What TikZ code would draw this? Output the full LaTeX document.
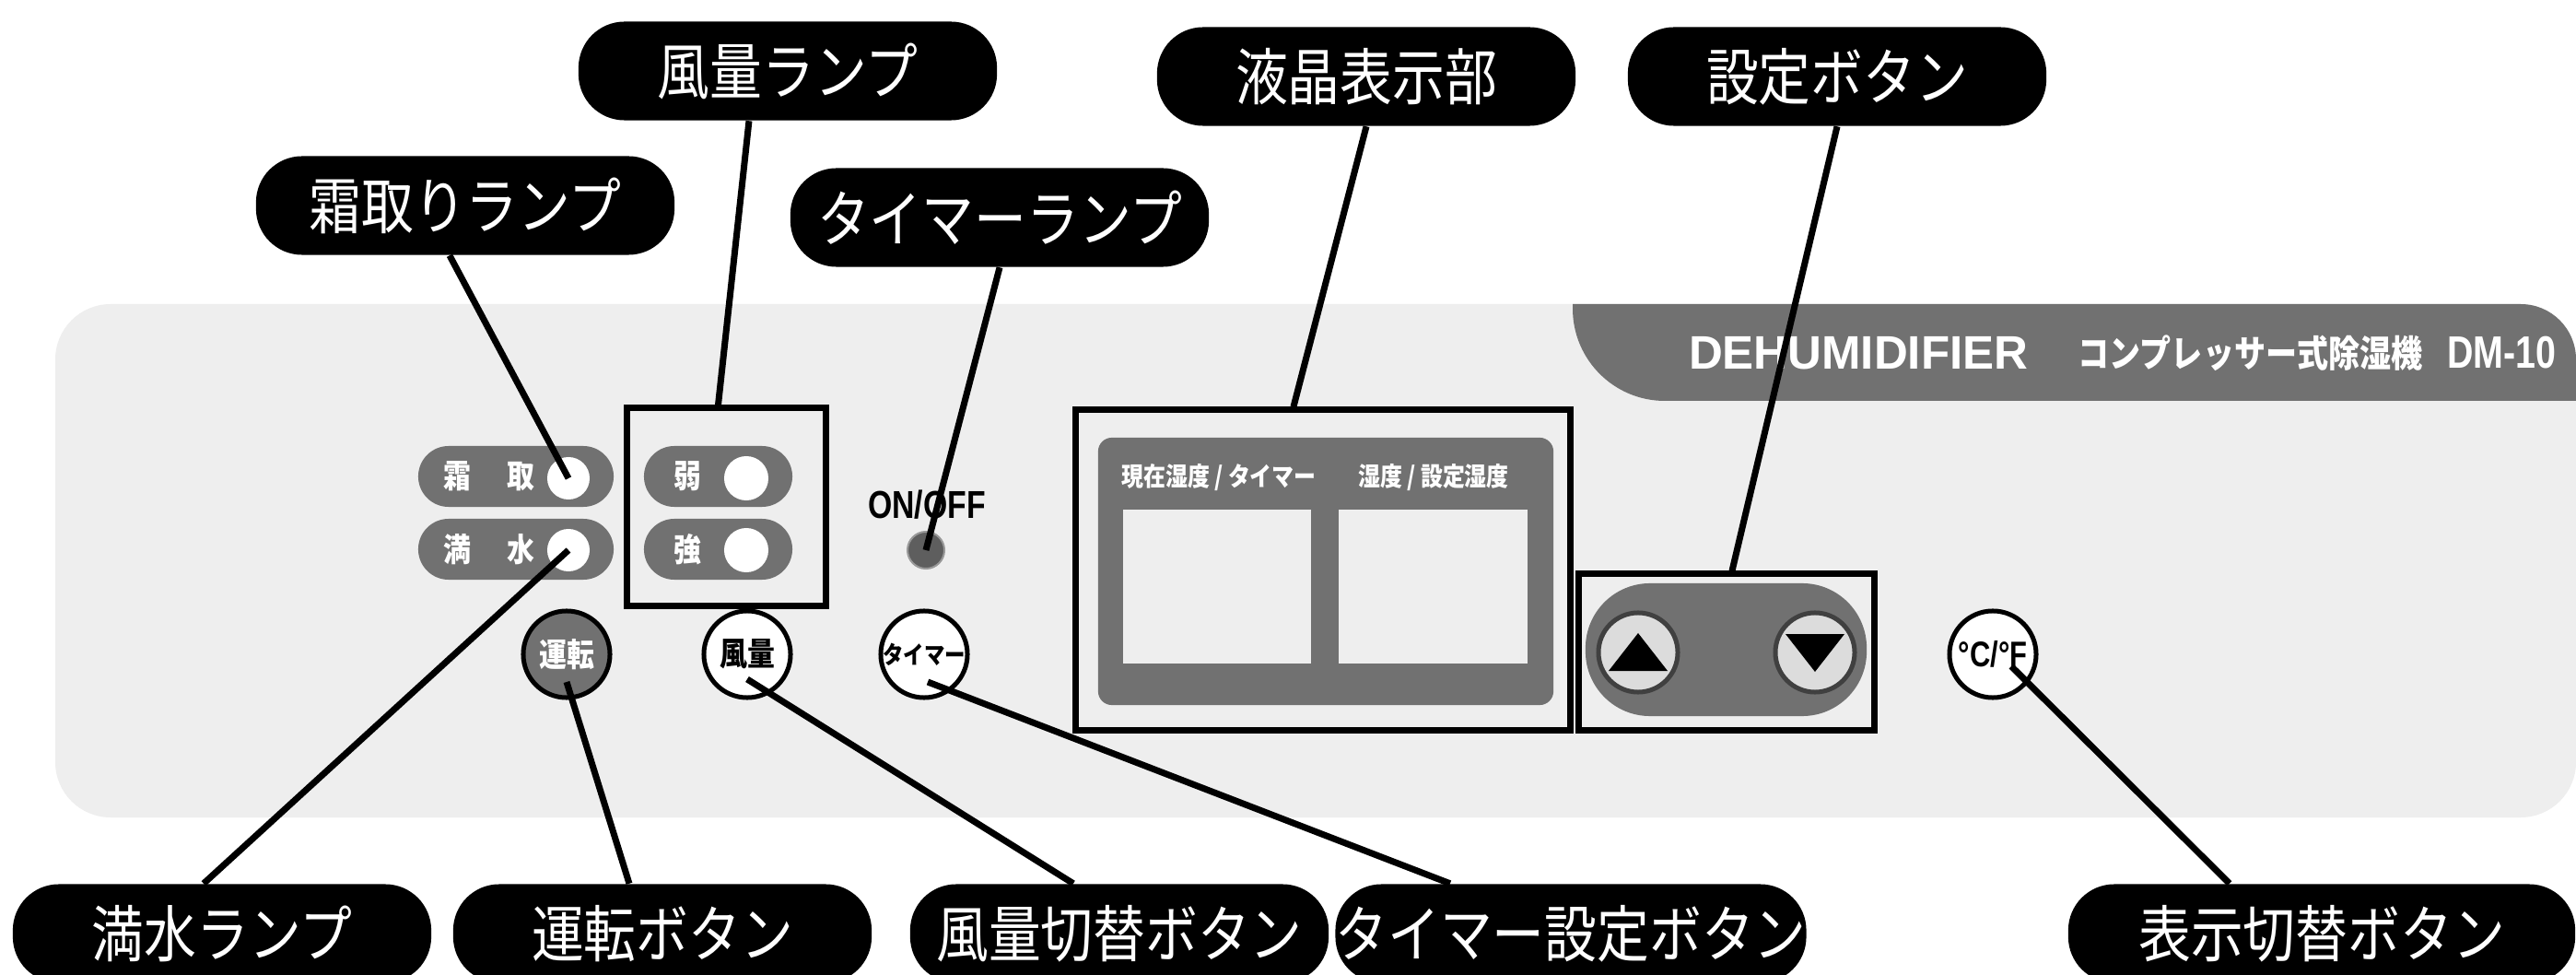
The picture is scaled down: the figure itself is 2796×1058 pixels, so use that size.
\documentclass[tikz,border=0pt]{standalone}
\usepackage{fontspec}
\usetikzlibrary{positioning}
\newfontfamily\jpfont[FakeStretch=0.85]{Noto Sans CJK JP}
\newfontfamily\condfont[FakeStretch=0.8]{Liberation Sans}
\newfontfamily\bandfont{Liberation Sans}
\definecolor{panelgray}{HTML}{EEEEEE}
\definecolor{bandgray}{HTML}{717171}
\definecolor{keygray}{HTML}{DCDCDC}
\definecolor{ledgray}{HTML}{5E5E5E}

\begin{document}
\begin{tikzpicture}[x=0.01cm,y=-0.01cm,
  callout/.style={fill=black,text=white,rounded corners=0.5cm,minimum width=4.54cm,minimum height=1.07cm,inner sep=0pt,font=\jpfont\fontsize{19pt}{20pt}\selectfont},
  lead/.style={line width=0.07cm},
  frame/.style={draw=black,line width=0.07cm,inner sep=0pt},
  lamp/.style={fill=bandgray,rounded corners=0.33cm,minimum height=0.66cm,inner sep=0pt},
  lampchar/.style={text=white,inner sep=0pt,font=\jpfont\bfseries\fontsize{10pt}{11pt}\selectfont},
  led/.style={circle,fill=white,minimum size=0.46cm,inner sep=0pt},
  key/.style={circle,draw=black,line width=0.05cm,fill=white,minimum size=0.94cm,inner sep=0pt,font=\jpfont\bfseries\fontsize{10pt}{11pt}\selectfont},
  arrowkey/.style={circle,draw=black!75,line width=0.05cm,fill=keygray,minimum size=0.86cm,inner sep=0pt},
  bandtext/.style={text=white,inner sep=0pt}]
\fill[white,use as bounding box] (0,0) rectangle (2796,1058);

% panel and top band
\fill[panelgray,rounded corners=0.6cm] (60,330) rectangle (2796,887);
\begin{scope}
\clip[rounded corners=0.6cm] (60,330) rectangle (2796,887);
\fill[bandgray] (1707,300) -- (1707,335) [rounded corners=1cm] -- (1707,435) -- (2900,435) [sharp corners] -- (2900,300) -- cycle;
\end{scope}
\node[bandtext,anchor=east,font=\bandfont\bfseries\fontsize{14.5pt}{15pt}\selectfont] (bandEn) at (2202,383) {DEHUMIDIFIER};
\node[bandtext,anchor=west,font=\jpfont\bfseries\fontsize{11.4pt}{12pt}\selectfont] (bandJp) at (2255,383) {コンプレッサー式除湿機};
\node[bandtext,anchor=east,font=\condfont\bfseries\fontsize{14pt}{15pt}\selectfont] (bandModel) at (2775,383) {DM-10};

% lamps
\node[lamp,minimum width=2.12cm] (lpShimo) at (560,517) {};
\node[lamp,minimum width=2.12cm] (lpMansui) at (560,596) {};
\node[lampchar] (chShimo) at (496,517) {霜};
\node[lampchar] (chTori) at (565,517) {取};
\node[lampchar] (chMan) at (496,596) {満};
\node[lampchar] (chSui) at (565,596) {水};
\node[led] (ledShimo) at (617,519) {};
\node[led] (ledMansui) at (617,597) {};
\node[frame,minimum width=2.15cm,minimum height=2.14cm] (boxFuryo) at (788.5,550) {};
\node[lamp,minimum width=1.61cm] (lpWeak) at (779.5,517) {};
\node[lamp,minimum width=1.61cm] (lpStrong) at (779.5,596) {};
\node[lampchar] (chWeak) at (746,517) {弱};
\node[lampchar] (chStrong) at (746,596) {強};
\node[led,minimum size=0.48cm] (ledWeak) at (810,519) {};
\node[led,minimum size=0.48cm] (ledStrong) at (810,597) {};
\node[inner sep=0pt,font=\condfont\bfseries\fontsize{12pt}{13pt}\selectfont] (txtOnoff) at (1006,548) {ON/OFF};
\node[circle,fill=ledgray,draw=black!40,line width=0.02cm,minimum size=0.4cm,inner sep=0pt] (ledOnoff) at (1005,597) {};

% buttons
\node[key,fill=bandgray,text=white] (keyRun) at (615,710) {運転};
\node[key] (keyFuryo) at (811,710) {風量};
\node[key,font=\jpfont\bfseries\fontsize{7.5pt}{8pt}\selectfont] (keyTimer) at (1003,710) {タイマー};
\node[key,font=\condfont\bfseries\fontsize{11pt}{12pt}\selectfont] (keyUnit) at (2163,710) {°C/°F};

% display
\node[frame,minimum width=5.36cm,minimum height=3.47cm] (boxLcd) at (1436,618.5) {};
\node[fill=bandgray,rounded corners=0.15cm,minimum width=4.94cm,minimum height=2.9cm,inner sep=0pt] (lcdBase) at (1439,620) {};
\node[fill=panelgray,minimum width=2.04cm,minimum height=1.67cm,inner sep=0pt] (scrLeft) at (1321,636.5) {};
\node[fill=panelgray,minimum width=2.05cm,minimum height=1.67cm,inner sep=0pt] (scrRight) at (1555.5,636.5) {};
\node[lampchar,font=\jpfont\bfseries\fontsize{8pt}{9pt}\selectfont] (lcdLabL) at (1323,518) {現在湿度 / タイマー};
\node[lampchar,font=\jpfont\bfseries\fontsize{8pt}{9pt}\selectfont] (lcdLabR) at (1556,518) {湿度\ / 設定湿度};

% up and down keys
\node[frame,minimum width=3.2cm,minimum height=1.69cm] (boxSet) at (1874,707.5) {};
\node[fill=bandgray,rounded corners=0.7cm,minimum width=3.05cm,minimum height=1.44cm,inner sep=0pt] (keyBase) at (1873.5,705) {};
\node[arrowkey] (keyUp) at (1778,708) {};
\node[arrowkey] (keyDown) at (1970,708) {};
\fill[shift={(keyUp)}] (-32,20) -- (32,20) -- (0,-21) -- cycle;
\fill[shift={(keyDown)}] (-32,-20) -- (32,-20) -- (0,21) -- cycle;

% callouts
\node[callout] (lbShimo) at (505,223) {霜取りランプ};
\node[callout] (lbFuryo) at (855,77) {風量ランプ};
\node[callout] (lbTimer) at (1085,236) {タイマーランプ};
\node[callout] (lbLcd) at (1483,83) {液晶表示部};
\node[callout] (lbSet) at (1994,83) {設定ボタン};
\node[callout] (lbMansui) at (241,1013) {満水ランプ};
\node[callout] (lbRun) at (719,1013) {運転ボタン};
\node[callout] (lbFuryoSw) at (1215,1013) {風量切替ボタン};
\node[callout] (lbTimerSet) at (1705,1013) {タイマー設定ボタン};
\node[callout,minimum width=5.5cm] (lbDisp) at (2520,1013) {表示切替ボタン};

\draw[lead] ([xshift=-0.17cm]lbShimo.south) -- (ledShimo.center);
\draw[lead] ([xshift=-0.42cm]lbFuryo.south) -- ([xshift=-0.09cm]boxFuryo.north);
\draw[lead] (lbTimer.south) -- (ledOnoff.center);
\draw[lead] (lbLcd.south) -- ([xshift=-0.32cm]boxLcd.north);
\draw[lead] (lbSet.south) -- ([xshift=0.06cm]boxSet.north);
\draw[lead] (ledMansui.center) -- ([xshift=-0.2cm]lbMansui.north);
\draw[lead] ([yshift=-0.3cm]keyRun.center) -- ([xshift=-0.36cm]lbRun.north);
\draw[lead] ([yshift=-0.27cm]keyFuryo.center) -- ([xshift=-0.5cm]lbFuryoSw.north);
\draw[lead] ([shift={(0.04cm,-0.3cm)}]keyTimer.center) -- ([xshift=-1.31cm]lbTimerSet.north);
\draw[lead] ([shift={(0.2cm,-0.13cm)}]keyUnit.center) -- ([xshift=-1cm]lbDisp.north);
\end{tikzpicture}
\end{document}
